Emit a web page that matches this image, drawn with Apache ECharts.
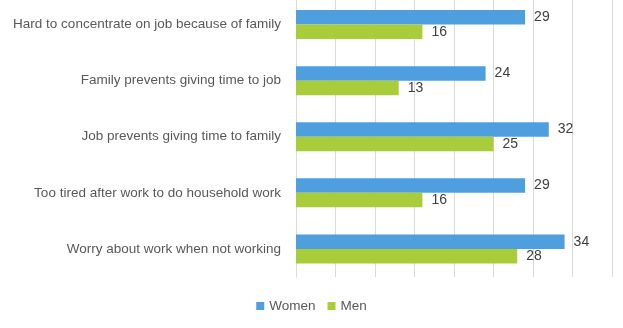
<!DOCTYPE html>
<html><head><meta charset="utf-8">
<script src="https://cdn.jsdelivr.net/npm/echarts@6/dist/echarts.min.js"></script>
<style>html,body{margin:0;padding:0;background:#fff}#c{width:623px;height:328px}</style>
</head><body><div id="c"></div>
<script>
const categories = [
  "Hard to concentrate on job because of family",
  "Family prevents giving time to job",
  "Job prevents giving time to family",
  "Too tired after work to do household work",
  "Worry about work when not working"
];
const women = [29, 24, 32, 29, 34];
const men = [16, 13, 25, 16, 28];
const seriesNames = ["Women", "Men"];

const chart = echarts.init(document.getElementById('c'));
const font = "'Liberation Sans', Arial, sans-serif";
const lbl = {show: true, position: 'right', distance: 9, color: '#404040', fontSize: 14, fontFamily: font};
chart.setOption({
  animation: false,
  textStyle: {fontFamily: font},
  grid: {left: 296, right: 11, top: -3.5, bottom: 51, containLabel: false, outerBoundsMode: 'none'},
  legend: {
    data: seriesNames, bottom: 10, left: 'center', itemWidth: 8, itemHeight: 8, itemGap: 12,
    icon: 'rect', textStyle: {color: '#595959', fontSize: 13.5, fontFamily: font}
  },
  xAxis: {
    type: 'value', min: 0, max: 40, interval: 5,
    axisLabel: {show: false}, axisLine: {show: false}, axisTick: {show: false},
    splitLine: {lineStyle: {color: '#d9d9d9', width: 1}}
  },
  yAxis: {
    type: 'category', data: categories, inverse: true,
    axisLine: {lineStyle: {color: '#d9d9d9'}}, axisTick: {show: false},
    axisLabel: {color: '#595959', fontSize: 13.5, fontFamily: font, margin: 15}
  },
  series: [
    {name: seriesNames[0], type: 'bar', data: women, barWidth: 14.5, barGap: '0%', itemStyle: {color: '#4f9fdf'}, label: lbl},
    {name: seriesNames[1], type: 'bar', data: men, barWidth: 14.5, itemStyle: {color: '#a9cd3a'}, label: lbl}
  ]
});
</script></body></html>
